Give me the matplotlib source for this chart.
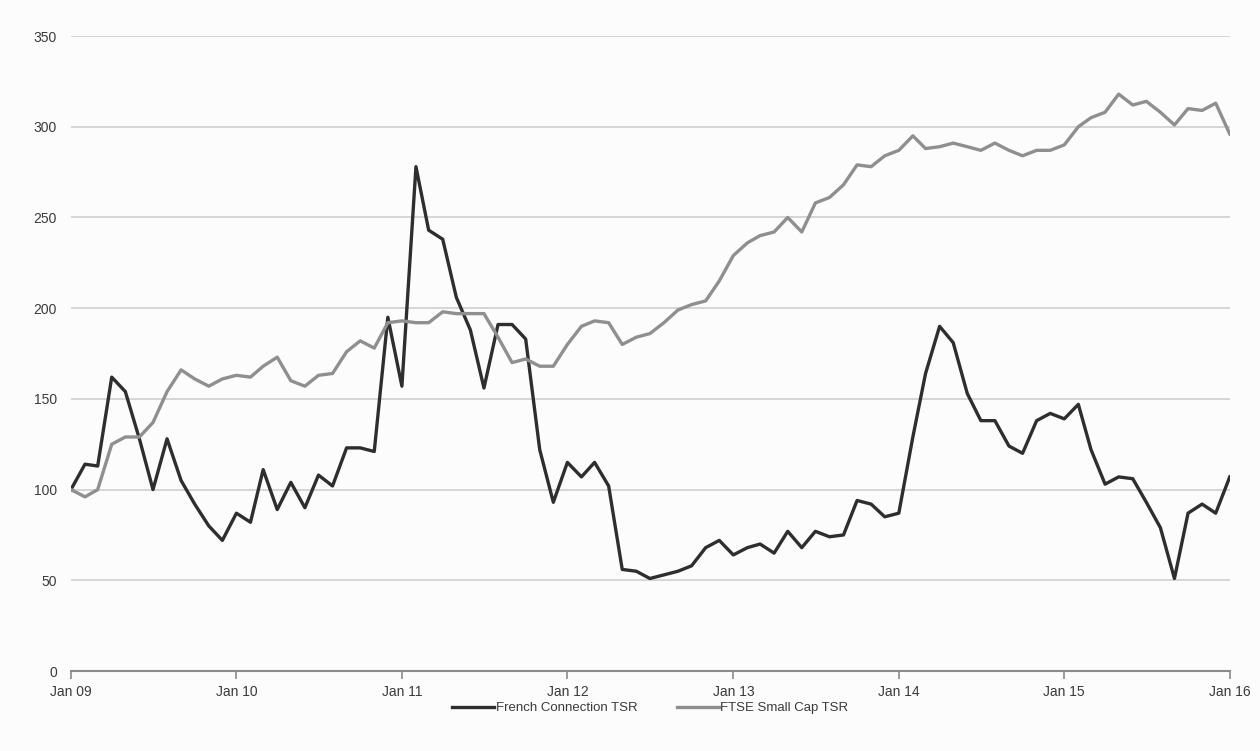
import matplotlib
matplotlib.use("Agg")
import matplotlib.pyplot as plt
import pandas as pd

plt.rcParams['font.family'] = ['Liberation Sans Narrow', 'Liberation Sans', 'DejaVu Sans']

# monthly values, Jan 2009 - Jan 2016
months = pd.date_range('2009-01-01', periods=85, freq='MS')

french_connection = [
    100, 114, 113, 162, 154, 128, 100, 128, 105, 92, 80, 72,
    87, 82, 111, 89, 104, 90, 108, 102, 123, 123, 121, 195,
    157, 278, 243, 238, 206, 188, 156, 191, 191, 183, 122, 93,
    115, 107, 115, 102, 56, 55, 51, 53, 55, 58, 68, 72,
    64, 68, 70, 65, 77, 68, 77, 74, 75, 94, 92, 85,
    87, 129, 164, 190, 181, 153, 138, 138, 124, 120, 138, 142,
    139, 147, 122, 103, 107, 106, 93, 79, 51, 87, 92, 87,
    107,
]

ftse_small_cap = [
    100, 96, 100, 125, 129, 129, 137, 154, 166, 161, 157, 161,
    163, 162, 168, 173, 160, 157, 163, 164, 176, 182, 178, 192,
    193, 192, 192, 198, 197, 197, 197, 184, 170, 172, 168, 168,
    180, 190, 193, 192, 180, 184, 186, 192, 199, 202, 204, 215,
    229, 236, 240, 242, 250, 242, 258, 261, 268, 279, 278, 284,
    287, 295, 288, 289, 291, 289, 287, 291, 287, 284, 287, 287,
    290, 300, 305, 308, 318, 312, 314, 308, 301, 310, 309, 313,
    296,
]

year_ticks = pd.date_range('2009-01-01', '2016-01-01', freq='12MS')
year_labels = ['Jan 09', 'Jan 10', 'Jan 11', 'Jan 12', 'Jan 13', 'Jan 14', 'Jan 15', 'Jan 16']
y_ticks = [0, 50, 100, 150, 200, 250, 300, 350]

fig = plt.figure(figsize=(12.6, 7.51), dpi=100, facecolor='#fcfcfc')
ax = fig.add_axes([0.0563, 0.1065, 0.9197, 0.8455])
ax.set_facecolor('#fcfcfc')

ax.plot(months, french_connection, color='#2e2e2e', lw=2.4, label='French Connection TSR')
ax.plot(months, ftse_small_cap, color='#8f8f8f', lw=2.4, label='FTSE Small Cap TSR')

ax.set_ylim(0, 350)
ax.set_xlim(months[0], months[-1])
ax.set_yticks(y_ticks)
ax.set_xticks(year_ticks)
ax.set_xticklabels(year_labels)
ax.grid(axis='y', color='#cfcfcf', lw=1.2)
ax.set_axisbelow(True)

for side in ['top', 'right', 'left']:
    ax.spines[side].set_visible(False)
ax.spines['bottom'].set_color('#8a8a8a')
ax.spines['bottom'].set_linewidth(1.5)

ax.tick_params(axis='y', length=0, pad=10, labelsize=10, labelcolor='#3a3a3a')
ax.tick_params(axis='x', length=6, width=1.2, color='#8a8a8a', pad=4,
               labelsize=10, labelcolor='#3a3a3a')

leg = ax.legend(loc='upper center', bbox_to_anchor=(0.5, -0.03), ncol=2,
                frameon=False, fontsize=9.5, handlelength=3.2, handletextpad=0.1,
                columnspacing=3)
for t in leg.get_texts():
    t.set_color('#3a3a3a')

fig.savefig('out.png', dpi=100, facecolor=fig.get_facecolor())
